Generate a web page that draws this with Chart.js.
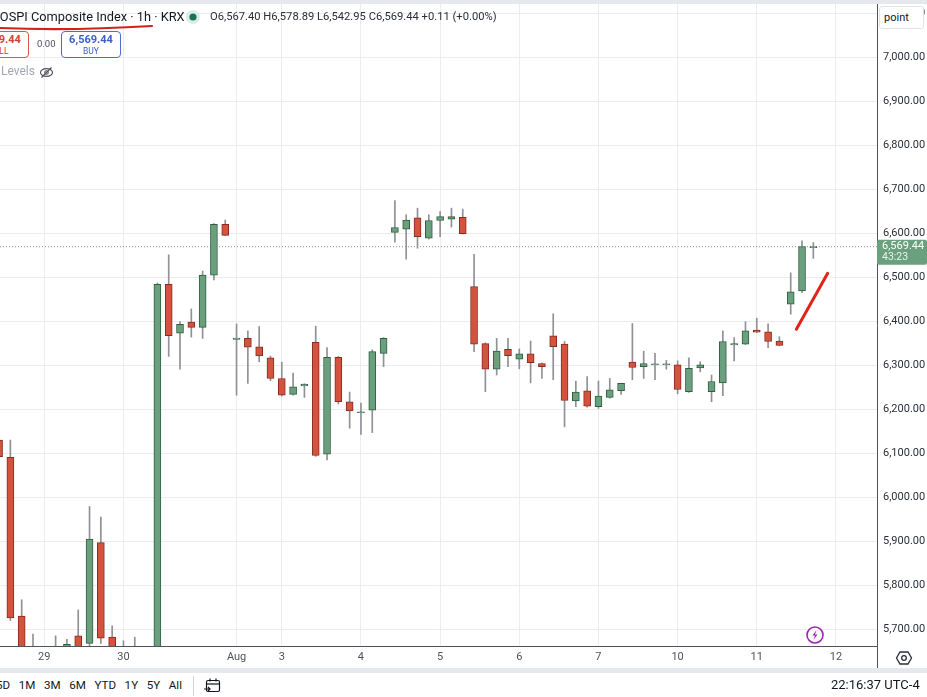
<!DOCTYPE html>
<html>
<head>
<meta charset="utf-8">
<script src="https://cdn.jsdelivr.net/npm/chart.js@4.4.1/dist/chart.umd.min.js"></script>
<style>
  html, body { margin: 0; padding: 0; background: #fff; }
  body { width: 927px; height: 697px; position: relative; overflow: hidden; font-family: Roboto, "Noto Sans", sans-serif; color: #131722; }
  #topband { position: absolute; left: 0; top: 0; width: 927px; height: 4px; background: #e6e8ee; }
  #chart { position: absolute; left: 0; top: 4px; }
  .abs { position: absolute; white-space: nowrap; }
  #title { left: -8px; top: 9px; font-size: 12.8px; color: #131722; }
  #ohlc { left: 210px; top: 10px; font-size: 11.2px; color: #2a2e39; }
  .tradebox { position: absolute; top: 31px; width: 58px; height: 25px; border: 1px solid; border-radius: 4px; text-align: center; background: #fff; }
  .tradebox .p { font-size: 11px; font-weight: bold; line-height: 13px; margin-top: 1px; }
  .tradebox .s { font-size: 8.5px; line-height: 10px; }
  #sell { left: -31px; border-color: #d9534f; color: #d3423b; }
  #buy { left: 61px; border-color: #4a6ed0; color: #3a5fc8; }
  #spread { left: 37px; top: 38px; font-size: 9.5px; color: #50535e; }
  #levels { left: 1px; top: 64px; font-size: 12px; color: #a3a6af; }
  #pointbox { left: 879px; top: 6px; width: 45px; height: 23px; border: 1px solid #e0e3eb; border-radius: 3px; font-size: 11px; line-height: 22px; padding-left: 4px; box-sizing: border-box; background: #fff; }
  #axisext { left: 877px; top: 646px; width: 1px; height: 22px; background: #50535e; }
  #sepband { left: 0; top: 668px; width: 927px; height: 5px; background: #e6e8ee; }
  #ranges { left: -4px; top: 678px; font-size: 11.6px; color: #131722; }
  #ranges span { margin-right: 8.6px; }
  #clock { left: 831px; top: 677px; font-size: 13px; color: #131722; }
  #rangesep { left: 193px; top: 676px; width: 1px; height: 20px; background: #d1d4dc; }
</style>
</head>
<body>
<div id="topband"></div>
<canvas id="chart" width="927" height="664"></canvas>

<div id="title" class="abs">KOSPI Composite Index · 1h · KRX</div>
<svg class="abs" style="left:0;top:22px" width="160" height="10">
  <path d="M0 6 Q 70 9 152 4" stroke="#d0231c" stroke-width="2.2" fill="none" stroke-linecap="round"/>
</svg>
<svg class="abs" style="left:185px;top:9px" width="16" height="16">
  <circle cx="8" cy="8" r="7" fill="#d7efe6"/>
  <circle cx="8" cy="8" r="3.6" fill="#1f6f57"/>
</svg>
<div id="ohlc" class="abs">O6,567.40 H6,578.89 L6,542.95 C6,569.44 +0.11 (+0.00%)</div>

<div id="sell" class="tradebox"><div class="p">6,569.44</div><div class="s">SELL</div></div>
<div id="spread" class="abs">0.00</div>
<div id="buy" class="tradebox"><div class="p">6,569.44</div><div class="s">BUY</div></div>
<div id="levels" class="abs">Levels</div>
<svg class="abs" style="left:39px;top:65px" width="15" height="15">
  <ellipse cx="7.5" cy="7.5" rx="6" ry="3.8" stroke="#50535e" stroke-width="1.2" fill="none"/>
  <circle cx="7.5" cy="7.5" r="1.8" stroke="#50535e" stroke-width="1.1" fill="none"/>
  <line x1="2.5" y1="12.5" x2="12.5" y2="2.5" stroke="#50535e" stroke-width="1.2"/>
</svg>

<div id="pointbox" class="abs">point</div>

<svg class="abs" style="left:805px;top:625px" width="20" height="20">
  <circle cx="10" cy="10" r="8" stroke="#9c27b0" stroke-width="1.6" fill="#fff"/>
  <path d="M11.5 5 L7.5 10.5 L10 10.5 L8.5 15 L12.5 9.5 L10 9.5 Z" fill="#9c27b0"/>
</svg>
<div id="axisext" class="abs"></div>
<svg class="abs" style="left:895px;top:649px" width="18" height="18">
  <path d="M5 3 L13 3 L16.5 9 L13 15 L5 15 L1.5 9 Z" stroke="#2a2e39" stroke-width="1.3" fill="none"/>
  <circle cx="9" cy="9" r="2.3" stroke="#2a2e39" stroke-width="1.3" fill="none"/>
</svg>

<div id="sepband" class="abs"></div>
<div id="ranges" class="abs"><span>5D</span><span>1M</span><span>3M</span><span>6M</span><span>YTD</span><span>1Y</span><span>5Y</span><span>All</span></div>
<div id="rangesep" class="abs"></div>
<svg class="abs" style="left:203px;top:677px" width="18" height="18">
  <rect x="3.5" y="3.5" width="13" height="11" rx="1.5" stroke="#131722" stroke-width="1.2" fill="none"/>
  <line x1="3.5" y1="7" x2="16.5" y2="7" stroke="#131722" stroke-width="1.2"/>
  <line x1="7" y1="1.5" x2="7" y2="4.5" stroke="#131722" stroke-width="1.2"/>
  <line x1="13" y1="1.5" x2="13" y2="4.5" stroke="#131722" stroke-width="1.2"/>
  <path d="M1 12 L7 12 M5 10 L7 12 L5 14" stroke="#131722" stroke-width="1.2" fill="none"/>
</svg>
<div id="clock" class="abs">22:16:37 UTC-4</div>

<script>
// hourly bars, index 0 = first bar of Jul 29 (session dates as shown on the axis)
const firstBar = -4;
const opens  = [6130, 6091, 5730, 5650, 5630, 5640, 5640, 5685, 5668, 5897, 5682, 5650, 5640, 5635,
                5620, 6484, 6373, 6398, 6386, 6505, 6620, 6359, 6361, 6342, 6317, 6270, 6234, 6253,
                6352, 6098, 6318, 6217, 6192, 6198, 6327, 6602, 6609, 6635, 6589, 6629, 6632, 6636,
                6479, 6349, 6291, 6336, 6314, 6326, 6304, 6367, 6348, 6219, 6242, 6206, 6227, 6242,
                6307, 6297, 6301, 6301, 6301, 6240, 6294, 6240, 6260, 6346, 6348, 6380, 6376, 6355,
                6439, 6469, 6567.40];
const highs  = [6229, 6130, 5767, 5689, 5655, 5685, 5677, 5744, 5979, 5955, 5708, 5674, 5682, 5655,
                6487, 6551, 6399, 6428, 6514, 6622, 6630, 6394, 6378, 6388, 6321, 6307, 6282, 6258,
                6389, 6340, 6320, 6239, 6214, 6335, 6363, 6674, 6642, 6657, 6642, 6649, 6657, 6655,
                6552, 6351, 6361, 6361, 6337, 6355, 6305, 6417, 6354, 6264, 6274, 6264, 6270, 6259,
                6395, 6332, 6327, 6311, 6310, 6317, 6308, 6278, 6378, 6363, 6399, 6407, 6394, 6365,
                6510, 6583, 6578.89];
const lows   = [6028, 5720, 5600, 5610, 5600, 5610, 5630, 5640, 5655, 5668, 5640, 5620, 5620, 5600,
                5600, 6320, 6291, 6364, 6361, 6494, 6595, 6232, 6259, 6308, 6265, 6230, 6232, 6227,
                6093, 6085, 6212, 6157, 6143, 6147, 6297, 6580, 6541, 6566, 6587, 6592, 6614, 6598,
                6331, 6240, 6278, 6297, 6292, 6260, 6270, 6267, 6160, 6206, 6205, 6202, 6225, 6234,
                6267, 6270, 6267, 6291, 6235, 6238, 6285, 6217, 6231, 6310, 6347, 6374, 6340, 6344,
                6416, 6465, 6542.95];
const closes = [6092, 5726, 5620, 5630, 5640, 5625, 5666, 5650, 5905, 5680, 5650, 5640, 5635, 5620,
                6484, 6367, 6393, 6386, 6505, 6620, 6595, 6362, 6341, 6321, 6270, 6232, 6251, 6257,
                6095, 6318, 6217, 6196, 6194, 6331, 6361, 6613, 6630, 6592, 6629, 6638, 6638, 6599,
                6348, 6291, 6332, 6322, 6326, 6306, 6297, 6342, 6220, 6239, 6207, 6230, 6244, 6259,
                6295, 6304, 6303, 6303, 6245, 6293, 6301, 6263, 6354, 6349, 6378, 6375, 6354, 6345,
                6467, 6570, 6569.44];

// date labels on the time axis (bar index of first bar of each shown date)
const dateTickBars   = [0, 7, 17, 21, 28, 35, 42, 49, 56, 63, 70];
const dateTickLabels = ['29', '30', 'Aug', '3', '4', '5', '6', '7', '10', '11', '12'];

// visible range
const xMin = -3.917, xMax = 73.63;
const yMin = 5662, yMax = 7121;

// hand-drawn red stroke (bar index, price)
const annotX = [66.5, 69.27];
const annotY = [6382, 6509];

const countdown = '43:23';

const UP = '#6ba07e', UP_BORDER = '#2f5f40';
const DOWN = '#d4533f', DOWN_BORDER = '#8a2b1f';
const WICK = '#8f9196';

const barX = opens.map((_, k) => firstBar + k);
const isUp = opens.map((o, k) => closes[k] >= o);
const lastClose = closes[closes.length - 1];

const fmt = v => v.toLocaleString('en-US', { minimumFractionDigits: 2, maximumFractionDigits: 2 });

// no extra padding for overflowing tick labels, so the plot fills the canvas
const noPad = scale => {
    scale.paddingTop = 0;
    scale.paddingBottom = 0;
    scale.paddingLeft = 0;
    scale.paddingRight = 0;
};

const priceTag = {
    id: 'priceTag',
    afterDraw(chart) {
        const ctx = chart.ctx;
        const y = chart.scales.y.getPixelForValue(lastClose);
        const x = chart.chartArea.right;
        ctx.save();
        ctx.fillStyle = '#6aa07d';
        ctx.beginPath();
        ctx.roundRect(x, y - 7, chart.width - x, 25, 2);
        ctx.fill();
        ctx.fillStyle = '#fff';
        ctx.textBaseline = 'middle';
        ctx.font = '11px Roboto';
        ctx.fillText(fmt(lastClose), x + 5, y);
        ctx.font = '10.5px Roboto';
        ctx.fillStyle = '#e8f3ec';
        ctx.fillText(countdown, x + 5, y + 11);
        ctx.restore();
    }
};

const ctx = document.getElementById('chart').getContext('2d');
new Chart(ctx, {
    data: {
        datasets: [
            {
                type: 'bar',
                label: 'wicks',
                data: barX.map((x, k) => ({ x: x, y: [lows[k], highs[k]] })),
                backgroundColor: WICK,
                barThickness: 1,
                grouped: false,
                order: 3
            },
            {
                type: 'bar',
                label: 'bodies',
                data: barX.map((x, k) => ({ x: x, y: [opens[k], closes[k]] })),
                backgroundColor: isUp.map(u => u ? UP : DOWN),
                borderColor: isUp.map(u => u ? UP_BORDER : DOWN_BORDER),
                borderWidth: 1,
                borderSkipped: false,
                barThickness: 7,
                minBarLength: 1,
                grouped: false,
                order: 2
            },
            {
                type: 'line',
                label: 'last',
                data: [{ x: xMin, y: lastClose }, { x: xMax, y: lastClose }],
                borderColor: '#8c8f96',
                borderWidth: 1,
                borderDash: [1, 2],
                pointRadius: 0,
                order: 4
            },
            {
                type: 'line',
                label: 'mark',
                data: annotX.map((x, k) => ({ x: x, y: annotY[k] })),
                borderColor: '#e2231a',
                borderWidth: 3,
                borderCapStyle: 'round',
                pointRadius: 0,
                order: 1
            }
        ]
    },
    options: {
        responsive: false,
        animation: false,
        devicePixelRatio: 1,
        layout: { padding: 0 },
        plugins: { legend: { display: false }, tooltip: { enabled: false } },
        scales: {
            x: {
                type: 'linear',
                min: xMin,
                max: xMax,
                offset: false,
                afterBuildTicks: scale => { scale.ticks = dateTickBars.map(v => ({ value: v })); },
                afterFit: scale => { scale.height = 22; noPad(scale); },
                grid: { color: '#ececec', drawTicks: false, offset: false },
                border: { color: '#50535e', width: 1 },
                ticks: {
                    autoSkip: false,
                    maxRotation: 0,
                    padding: 5,
                    color: '#50535e',
                    font: { family: 'Roboto', size: 11 },
                    callback: v => dateTickLabels[dateTickBars.indexOf(v)]
                }
            },
            y: {
                type: 'linear',
                position: 'right',
                min: yMin,
                max: yMax,
                afterFit: scale => { scale.width = 50; noPad(scale); },
                grid: { color: '#ececec', drawTicks: false },
                border: { color: '#50535e', width: 1 },
                ticks: {
                    stepSize: 100,
                    includeBounds: false,
                    padding: 6,
                    color: '#2a2e39',
                    font: { family: 'Roboto', size: 11 },
                    callback: v => fmt(v)
                }
            }
        }
    },
    plugins: [priceTag]
});
</script>
</body>
</html>
